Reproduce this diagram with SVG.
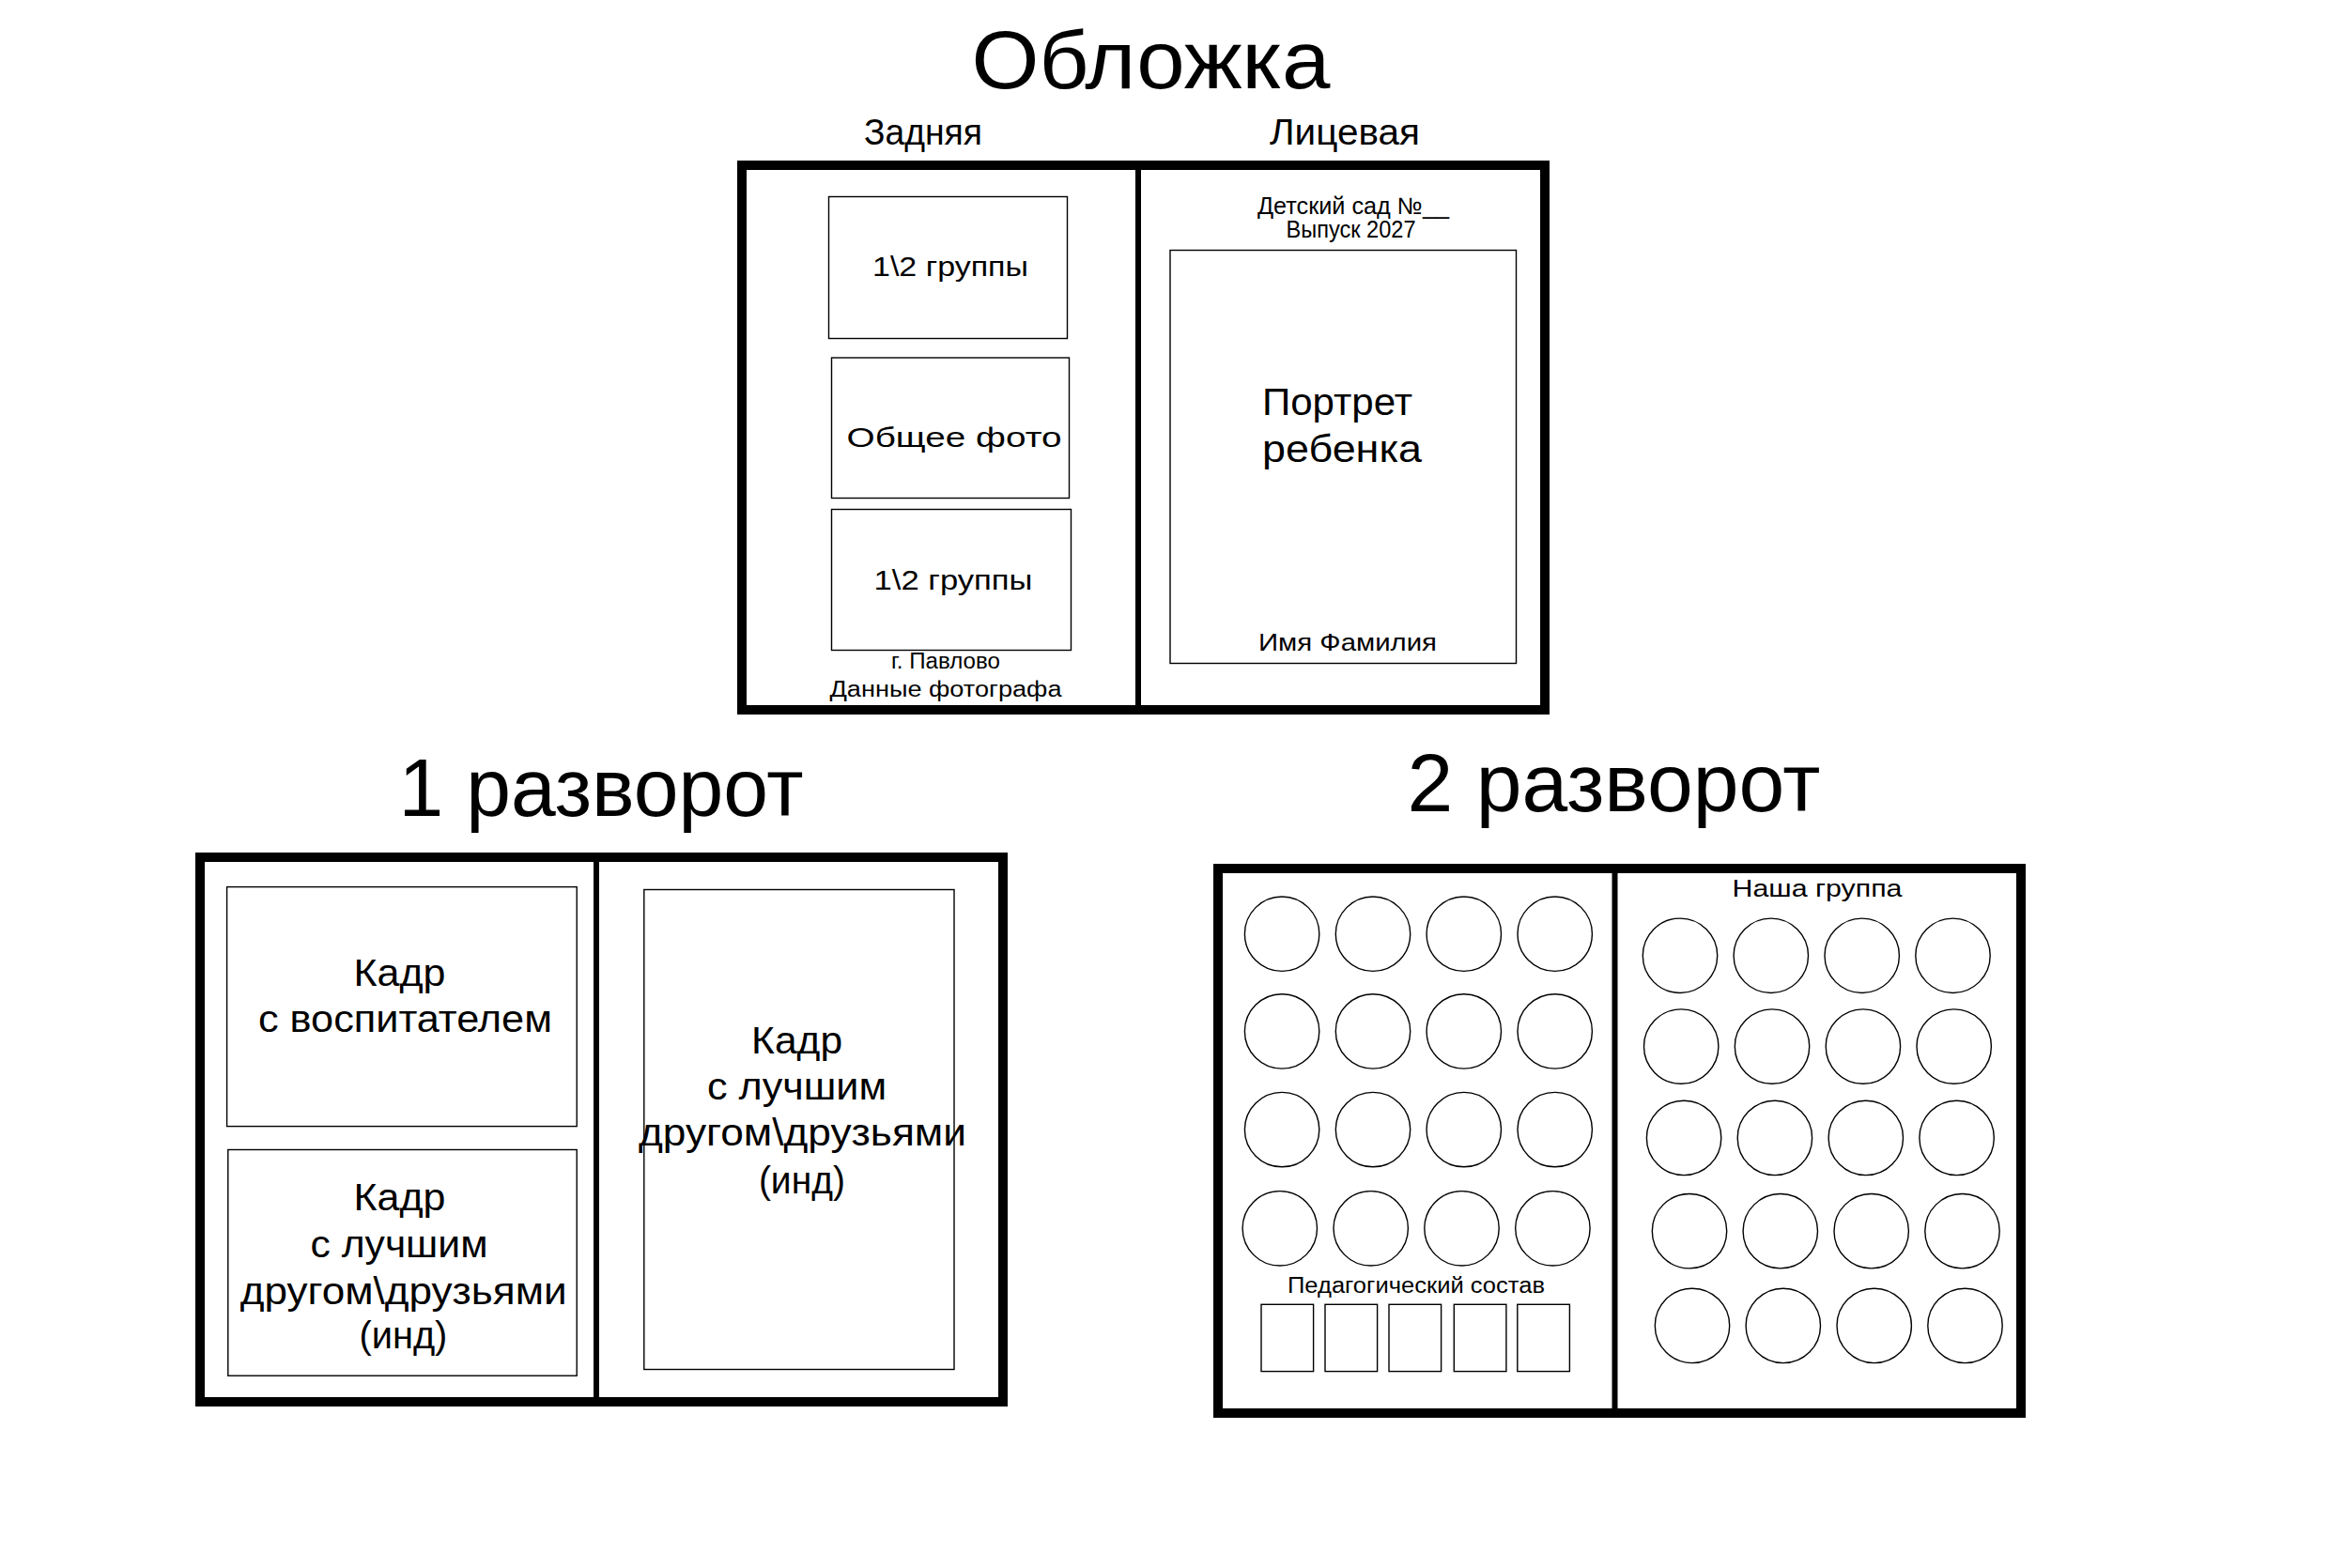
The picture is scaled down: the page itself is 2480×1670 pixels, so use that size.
<svg xmlns="http://www.w3.org/2000/svg" width="2480" height="1670" viewBox="0 0 2480 1670">
<style>
.frame{fill:none;stroke:#000;stroke-width:10}
.div{stroke:#000;stroke-width:6}
.box{fill:none;stroke:#000;stroke-width:1.4}
.ph{fill:none;stroke:#000;stroke-width:1.4}
text{font-family:"Liberation Sans",Arial,sans-serif;fill:#000;text-anchor:middle}
.title{font-size:88px}
.sub{font-size:38px}
.mid{font-size:30px}
.big{font-size:40px}
.sm{font-size:23px}
.st{text-anchor:start}
</style>
<rect width="2480" height="1670" fill="#fff"/>

<g id="cover">
  <text class="title" x="1225.5" y="93.6" textLength="382" lengthAdjust="spacingAndGlyphs">Обложка</text>
  <text class="sub" x="983" y="154.4" textLength="126" lengthAdjust="spacingAndGlyphs">Задняя</text>
  <text class="sub" x="1432" y="154.4" textLength="160" lengthAdjust="spacingAndGlyphs">Лицевая</text>
  <rect class="frame" x="790" y="176" width="855" height="580"/>
  <line class="div" x1="1212" y1="176" x2="1212" y2="756"/>
  <g id="cover-back">
    <g id="cover-half1">
      <rect class="box" x="882.5" y="209.5" width="254" height="151"/>
      <text class="mid" x="1012" y="294" textLength="166" lengthAdjust="spacingAndGlyphs">1\2 группы</text>
    </g>
    <g id="cover-general">
      <rect class="box" x="885.5" y="381" width="253" height="149.5"/>
      <text class="mid" x="1016" y="475.5" textLength="229" lengthAdjust="spacingAndGlyphs">Общее фото</text>
    </g>
    <g id="cover-half2">
      <rect class="box" x="885.5" y="542.5" width="255" height="150"/>
      <text class="mid" x="1015" y="627.5" textLength="169" lengthAdjust="spacingAndGlyphs">1\2 группы</text>
    </g>
    <text class="sm" x="1007" y="712" textLength="116" lengthAdjust="spacingAndGlyphs">г. Павлово</text>
    <text class="sm" x="1007" y="742" textLength="247" lengthAdjust="spacingAndGlyphs">Данные фотографа</text>
  </g>
  <g id="cover-front">
    <text x="1441" y="228" font-size="25" textLength="204" lengthAdjust="spacingAndGlyphs">Детский сад №__</text>
    <text x="1438.5" y="253" font-size="25" textLength="138" lengthAdjust="spacingAndGlyphs">Выпуск 2027</text>
    <g id="cover-portrait">
      <rect class="box" x="1246" y="266.5" width="368.5" height="440"/>
      <text class="big st" x="1344" y="442" textLength="160" lengthAdjust="spacingAndGlyphs">Портрет</text>
      <text class="big st" x="1344" y="492" textLength="170" lengthAdjust="spacingAndGlyphs">ребенка</text>
      <text x="1435" y="693" font-size="26" textLength="190" lengthAdjust="spacingAndGlyphs">Имя Фамилия</text>
    </g>
  </g>
</g>

<g id="spread1">
  <text class="title" x="640" y="868.5" textLength="431" lengthAdjust="spacingAndGlyphs">1 разворот</text>
  <rect class="frame" x="213" y="913" width="855" height="580"/>
  <line class="div" x1="635" y1="913" x2="635" y2="1493"/>
  <g id="spread1-teacher">
    <rect class="box" x="241.6" y="944.6" width="372.6" height="255"/>
    <text class="big" x="425.5" y="1050" textLength="98" lengthAdjust="spacingAndGlyphs">Кадр</text>
    <text class="big" x="431.4" y="1099" textLength="313" lengthAdjust="spacingAndGlyphs">с воспитателем</text>
  </g>
  <g id="spread1-friends-left">
    <rect class="box" x="242.8" y="1224.5" width="371.4" height="240.7"/>
    <text class="big" x="425.5" y="1288.6" textLength="98" lengthAdjust="spacingAndGlyphs">Кадр</text>
    <text class="big" x="425" y="1339" textLength="189" lengthAdjust="spacingAndGlyphs">с лучшим</text>
    <text class="big" x="429.7" y="1389" textLength="348" lengthAdjust="spacingAndGlyphs">другом\друзьями</text>
    <text class="big" x="429.4" y="1435.5" textLength="94" lengthAdjust="spacingAndGlyphs">(инд)</text>
  </g>
  <g id="spread1-friends-right">
    <rect class="box" x="685.8" y="947.5" width="330.2" height="511"/>
    <text class="big" x="848.6" y="1122" textLength="97" lengthAdjust="spacingAndGlyphs">Кадр</text>
    <text class="big" x="848.6" y="1171.4" textLength="191" lengthAdjust="spacingAndGlyphs">с лучшим</text>
    <text class="big" x="854.5" y="1220" textLength="349" lengthAdjust="spacingAndGlyphs">другом\друзьями</text>
    <text class="big" x="853.9" y="1270.5" textLength="92" lengthAdjust="spacingAndGlyphs">(инд)</text>
  </g>
</g>

<g id="spread2">
  <text class="title" x="1718.5" y="863.5" textLength="440" lengthAdjust="spacingAndGlyphs">2 разворот</text>
  <rect class="frame" x="1297" y="925" width="855" height="580"/>
  <line class="div" x1="1719.5" y1="925" x2="1719.5" y2="1505" stroke-width="7"/>
  <g id="spread2-left">
    <circle class="ph" cx="1365.1" cy="994.7" r="39.7"/>
    <circle class="ph" cx="1462" cy="994.7" r="39.7"/>
    <circle class="ph" cx="1558.8" cy="994.7" r="39.7"/>
    <circle class="ph" cx="1655.7" cy="994.7" r="39.7"/>
    <circle class="ph" cx="1365.1" cy="1098.4" r="39.7"/>
    <circle class="ph" cx="1462" cy="1098.4" r="39.7"/>
    <circle class="ph" cx="1558.8" cy="1098.4" r="39.7"/>
    <circle class="ph" cx="1655.7" cy="1098.4" r="39.7"/>
    <circle class="ph" cx="1365.1" cy="1203.1" r="39.7"/>
    <circle class="ph" cx="1462" cy="1203.1" r="39.7"/>
    <circle class="ph" cx="1558.8" cy="1203.1" r="39.7"/>
    <circle class="ph" cx="1655.7" cy="1203.1" r="39.7"/>
    <circle class="ph" cx="1362.8" cy="1308.3" r="39.7"/>
    <circle class="ph" cx="1459.7" cy="1308.3" r="39.7"/>
    <circle class="ph" cx="1556.5" cy="1308.3" r="39.7"/>
    <circle class="ph" cx="1653.4" cy="1308.3" r="39.7"/>
    <text class="sm" x="1508" y="1377" textLength="274" lengthAdjust="spacingAndGlyphs">Педагогический состав</text>
    <rect class="box" x="1343" y="1389.3" width="55.6" height="71.3"/>
    <rect class="box" x="1411" y="1389.3" width="55.6" height="71.3"/>
    <rect class="box" x="1479" y="1389.3" width="55.6" height="71.3"/>
    <rect class="box" x="1548.3" y="1389.3" width="55.6" height="71.3"/>
    <rect class="box" x="1615.8" y="1389.3" width="55.6" height="71.3"/>
  </g>
  <g id="spread2-right">
    <text x="1935" y="955.4" font-size="25" textLength="181" lengthAdjust="spacingAndGlyphs">Наша группа</text>
    <circle class="ph" cx="1789" cy="1017.8" r="39.7"/>
    <circle class="ph" cx="1885.8" cy="1017.8" r="39.7"/>
    <circle class="ph" cx="1982.7" cy="1017.8" r="39.7"/>
    <circle class="ph" cx="2079.5" cy="1017.8" r="39.7"/>
    <circle class="ph" cx="1790.2" cy="1114.6" r="39.7"/>
    <circle class="ph" cx="1887" cy="1114.6" r="39.7"/>
    <circle class="ph" cx="1983.9" cy="1114.6" r="39.7"/>
    <circle class="ph" cx="2080.7" cy="1114.6" r="39.7"/>
    <circle class="ph" cx="1793.1" cy="1211.9" r="39.7"/>
    <circle class="ph" cx="1889.9" cy="1211.9" r="39.7"/>
    <circle class="ph" cx="1986.8" cy="1211.9" r="39.7"/>
    <circle class="ph" cx="2083.6" cy="1211.9" r="39.7"/>
    <circle class="ph" cx="1799" cy="1311.2" r="39.7"/>
    <circle class="ph" cx="1895.8" cy="1311.2" r="39.7"/>
    <circle class="ph" cx="1992.7" cy="1311.2" r="39.7"/>
    <circle class="ph" cx="2089.5" cy="1311.2" r="39.7"/>
    <circle class="ph" cx="1802" cy="1411.9" r="39.7"/>
    <circle class="ph" cx="1898.8" cy="1411.9" r="39.7"/>
    <circle class="ph" cx="1995.7" cy="1411.9" r="39.7"/>
    <circle class="ph" cx="2092.5" cy="1411.9" r="39.7"/>
  </g>
</g>
</svg>
